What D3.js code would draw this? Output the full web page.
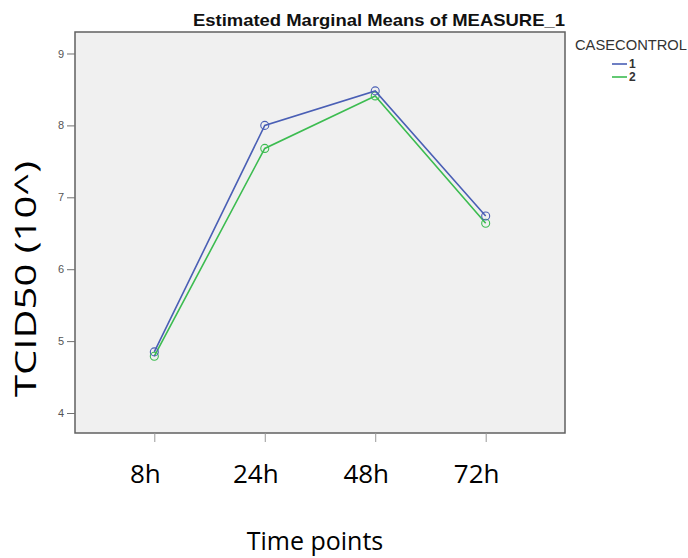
<!DOCTYPE html>
<html>
<head>
<meta charset="utf-8">
<style>
  body { margin: 0; background: #fff; }
  svg { display: block; }
</style>
</head>
<body>
<svg id="chart"></svg>
<script src="https://d3js.org/d3.v7.min.js"></script>
<script>
// data
var timePoints = ['8h', '24h', '48h', '72h'];
var groupNames = ['1', '2'];
var group1Means = [4.85, 8.00, 8.48, 6.74];
var group2Means = [4.79, 7.68, 8.41, 6.64];
var yTicks = [4, 5, 6, 7, 8, 9];

var width = 688, height = 558;
var frame = { left: 75, right: 565, top: 32, bottom: 433 };
var colors = ['#4a5fb5', '#3cbc50'];

var svg = d3.select('#chart').attr('width', width).attr('height', height);

var x = d3.scalePoint()
  .domain(timePoints)
  .range([frame.left, frame.right])
  .padding(0.718);

var y = d3.scaleLinear()
  .domain([3.722, 9.299])
  .range([frame.bottom, frame.top]);

// plot frame
svg.append('rect')
  .attr('x', frame.left).attr('y', frame.top)
  .attr('width', frame.right - frame.left)
  .attr('height', frame.bottom - frame.top)
  .attr('fill', '#f0f0f0')
  .attr('stroke', '#606060')
  .attr('stroke-width', 1.5);

// y axis (ticks only, frame is the line)
var yAxis = svg.append('g')
  .attr('transform', 'translate(' + frame.left + ',0)')
  .call(d3.axisLeft(y).tickValues(yTicks).tickSize(8).tickPadding(3).tickFormat(d3.format('d')));
yAxis.select('.domain').remove();
yAxis.selectAll('line').attr('stroke', '#707070');
yAxis.selectAll('text')
  .attr('fill', '#555')
  .style('font-family', 'Liberation Sans, Arial, sans-serif')
  .style('font-size', '11px');

// x axis ticks, labels drawn separately in a bigger font
var xAxis = svg.append('g')
  .attr('transform', 'translate(0,' + frame.bottom + ')')
  .call(d3.axisBottom(x).tickSize(9).tickFormat(''));
xAxis.select('.domain').remove();
xAxis.selectAll('line').attr('stroke', '#999');

svg.append('g').selectAll('text')
  .data(timePoints)
  .join('text')
  .attr('x', function(d) { return x(d) - 9; })
  .attr('y', 483)
  .attr('text-anchor', 'middle')
  .style('font-family', 'Open Sans, sans-serif')
  .style('font-size', '26px')
  .attr('fill', '#000')
  .text(function(d) { return d; });

// series lines + hollow circles
var series = [group1Means, group2Means];
var line = d3.line()
  .x(function(d, i) { return x(timePoints[i]); })
  .y(function(d) { return y(d); });

series.slice().reverse().forEach(function(vals, k) {
  var idx = series.length - 1 - k;
  svg.append('path')
    .attr('d', line(vals))
    .attr('fill', 'none')
    .attr('stroke', colors[idx])
    .attr('stroke-width', 1.6);
  svg.append('g').selectAll('circle')
    .data(vals)
    .join('circle')
    .attr('cx', function(d, i) { return x(timePoints[i]); })
    .attr('cy', function(d) { return y(d); })
    .attr('r', 4)
    .attr('fill', 'none')
    .attr('stroke', colors[idx])
    .attr('stroke-width', 1.1);
});

// title
svg.append('text')
  .attr('x', 193).attr('y', 26)
  .attr('textLength', 372)
  .attr('lengthAdjust', 'spacingAndGlyphs')
  .style('font-family', 'Liberation Sans, Arial, sans-serif')
  .style('font-size', '17px')
  .style('font-weight', 'bold')
  .attr('fill', '#111')
  .text('Estimated Marginal Means of MEASURE_1');

// legend
svg.append('text')
  .attr('x', 575).attr('y', 50)
  .attr('textLength', 112)
  .attr('lengthAdjust', 'spacingAndGlyphs')
  .style('font-family', 'Liberation Sans, Arial, sans-serif')
  .style('font-size', '14px')
  .attr('fill', '#333')
  .text('CASECONTROL');

var legend = svg.append('g').selectAll('g')
  .data(groupNames)
  .join('g')
  .attr('transform', function(d, i) { return 'translate(612,' + (64 + i * 13) + ')'; });
legend.append('line')
  .attr('x1', 0).attr('x2', 15)
  .attr('stroke', function(d, i) { return colors[i]; })
  .attr('stroke-width', 1.6);
legend.append('text')
  .attr('x', 17).attr('y', 4)
  .style('font-family', 'Liberation Sans, Arial, sans-serif')
  .style('font-size', '12px')
  .style('font-weight', 'bold')
  .attr('fill', '#333')
  .text(function(d) { return d; });

// axis titles
svg.append('text')
  .attr('x', 315).attr('y', 550)
  .attr('text-anchor', 'middle')
  .style('font-family', 'Open Sans, sans-serif')
  .style('font-size', '25px')
  .attr('fill', '#000')
  .text('Time points');

svg.append('text')
  .attr('transform', 'translate(36,279) rotate(-90)')
  .attr('text-anchor', 'middle')
  .attr('textLength', 236)
  .attr('lengthAdjust', 'spacingAndGlyphs')
  .style('font-family', 'Open Sans, sans-serif')
  .style('font-size', '29px')
  .attr('fill', '#000')
  .text('TCID50 (10^)');
</script>
</body>
</html>
